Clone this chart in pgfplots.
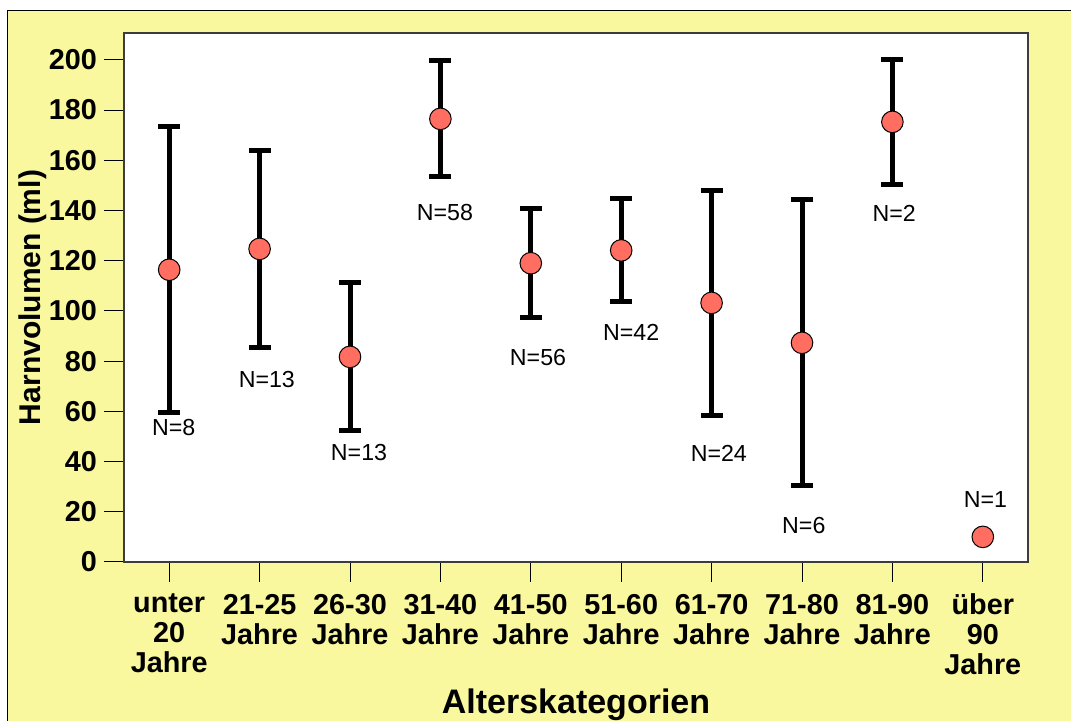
\documentclass[border=0pt]{standalone}
\usepackage{pgfplots}
\pgfplotsset{compat=1.18}
\usepackage{fontspec}
\setmainfont{Liberation Sans}

\definecolor{bgyellow}{RGB}{250,248,158}
\definecolor{dotred}{RGB}{255,110,96}
\definecolor{framegray}{RGB}{60,60,60}

% Mittelwert mit Fehlerbalken (ep = oben, em = unten)
\pgfplotstableread{
x  y      ep    em
1  116.4  57.0  57.0
2  124.7  39.3  39.3
3  81.7   29.5  29.5
4  176.5  23.1  23.1
5  119.0  21.7  21.7
6  124.1  20.5  20.5
7  103.2  44.8  44.8
8  87.3   57.0  57.0
9  175.3  25.0  25.0
10 10.0   0     0
}\means

% Fallzahlen
\pgfplotstableread{
x     y      label
1.05  53.4   N=8
2.08  72.5   N=13
3.10  43.8   N=13
4.05  139.0  N=58
5.08  81.4   N=56
6.11  91.4   N=42
7.08  43.4   N=24
8.02  14.7   N=6
9.02  139.0  N=2
10.03 24.7   N=1
}\counts

\begin{document}
\begin{tikzpicture}
% gelber Hintergrund
\fill[bgyellow, draw=black, line width=0.5pt] (-58pt,275.5pt) rectangle (500pt,-100pt);

\begin{axis}[
    scale only axis,
    width=452pt, height=264.5pt,
    xmin=0.5, xmax=10.5,
    ymin=0, ymax=210.7,
    axis background/.style={fill=white},
    axis line style={framegray, line width=0.6pt},
    xtick={1,...,10},
    xticklabels={{unter\\20\\Jahre},{21-25\\Jahre},{26-30\\Jahre},{31-40\\Jahre},{41-50\\Jahre},{51-60\\Jahre},{61-70\\Jahre},{71-80\\Jahre},{81-90\\Jahre},{über\\90\\Jahre}},
    ytick={0,20,...,200},
    tick align=outside,
    major tick length=10pt,
    tick style={black, line width=0.5pt},
    xtick pos=bottom, ytick pos=left,
    /pgf/number format/assume math mode=true,
    ticklabel style={font=\bfseries\fontsize{14.4}{15}\selectfont},
    xticklabel style={align=center, yshift=-2.5pt},
    xlabel={Alterskategorien},
    ylabel={Harnvolumen (ml)},
    xlabel style={font=\bfseries\fontsize{17}{17}\selectfont, at={(rel axis cs:0.5,-0.2873)}, anchor=base},
    ylabel style={font=\bfseries\fontsize{15}{15}\selectfont, at={(rel axis cs:-0.1007,0.5)}, anchor=center},
]
% Fehlerbalken
\addplot[only marks, mark=none,
    error bars/.cd, y dir=both, y explicit,
    error bar style={black, line width=2.5pt},
    error mark options={black, line width=2.5pt, mark size=5.5pt, rotate=90}]
    table[x=x, y=y, y error plus=ep, y error minus=em] {\means};
% Mittelwerte
\addplot[only marks, mark=*, mark size=5.4pt,
    mark options={fill=dotred, draw=black, line width=0.5pt}]
    table[x=x, y=y] {\means};
\addplot[draw=none, mark=none, nodes near coords, point meta=explicit symbolic,
    nodes near coords align={center},
    every node near coord/.append style={font=\fontsize{11.6}{12}\selectfont, inner sep=0pt}]
    table[x=x, y=y, meta=label] {\counts};
\end{axis}
\pgfresetboundingbox
\path[use as bounding box] (-62pt,-79.5pt) rectangle (473.5pt,281pt);
\end{tikzpicture}
\end{document}
